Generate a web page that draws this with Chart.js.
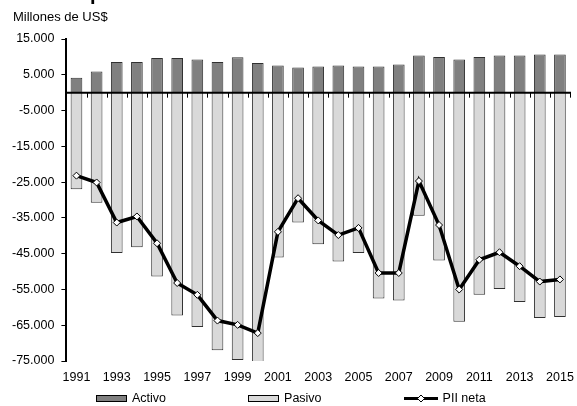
<!DOCTYPE html>
<html>
<head>
<meta charset="utf-8">
<script src="https://cdn.jsdelivr.net/npm/chart.js@4/dist/chart.umd.min.js"></script>
<style>
  body { margin: 0; background: #fff; }
  .chart__box { position: relative; width: 577px; height: 406px; }
  .legend { position: absolute; left: 96px; top: 391px; display: flex; gap: 82px;
            font: 12.5px "Liberation Sans", Arial, sans-serif; color: #000; }
  .legend__item { display: flex; align-items: center; }
  .legend__item canvas { margin-right: 5px; }
</style>
</head>
<body>
<div class="chart__box">
  <canvas id="myChart"></canvas>
  <div class="legend" id="legend"></div>
</div>
<script>
// data (millones de US$)
const years = [
  '1991','1992','1993','1994','1995','1996','1997','1998','1999','2000',
  '2001','2002','2003','2004','2005','2006','2007','2008','2009','2010',
  '2011','2012','2013','2014','2015'
];

const activo = [
  4200, 5900, 8600, 8600, 9700, 9700, 9300, 8600, 9900, 8300,
  7600, 7000, 7300, 7600, 7300, 7300, 7900, 10400, 10000, 9300,
  10000, 10400, 10400, 10700, 10700
];

const pasivo = [
  -27000, -30800, -44800, -43200, -51400, -62300, -65500, -72000, -74700, -75400,
  -46100, -36300, -42400, -47200, -44800, -57500, -58100, -34400, -46900, -64000,
  -56500, -54900, -58500, -63000, -62700
];

const piiNeta = [
  -23200, -25100, -36300, -34600, -42100, -53200, -56500, -63700, -64900, -67200,
  -38900, -29500, -35700, -39800, -37800, -50400, -50400, -24700, -37000, -55000,
  -46700, -44600, -48500, -52800, -52200
];

const yMin = -75000;
const yMax = 15000;
const yStep = 10000;

const fontFamily = '"Liberation Sans", Arial, sans-serif';

function fmt(v) {
  const s = Math.abs(v).toString().replace(/\B(?=(\d{3})+(?!\d))/g, '.');
  return (v < 0 ? '-' : '') + s;
}

// zero line with little ticks between the categories, plus unit label
const zeroAxis = {
  id: 'zeroAxis',
  afterDatasetsDraw(chart) {
    const ctx = chart.ctx;
    const y0 = chart.scales.y.getPixelForValue(0);
    const left = chart.chartArea.left;
    const right = chart.chartArea.right;
    ctx.save();
    ctx.strokeStyle = '#000';
    ctx.lineWidth = 1;
    const w = (right - left) / years.length;
    ctx.beginPath();
    for (let i = 1; i <= years.length; i++) {
      const px = Math.round(left + w * i) + 0.5;
      ctx.moveTo(px, y0);
      ctx.lineTo(px, y0 + 5);
    }
    ctx.stroke();
    ctx.lineWidth = 2;
    ctx.beginPath();
    ctx.moveTo(left, y0);
    ctx.lineTo(right + 1, y0);
    ctx.stroke();
    ctx.restore();
  },
  afterDraw(chart) {
    const ctx = chart.ctx;
    ctx.save();
    ctx.fillStyle = '#000';
    ctx.font = '13px ' + fontFamily;
    ctx.textBaseline = 'alphabetic';
    ctx.fillText('Millones de US$', 13, 21);
    // tail of the cut-off title above the picture
    ctx.font = 'bold 20px ' + fontFamily;
    ctx.fillText('p', 90, 0);
    ctx.restore();
  }
};

const data = {
  labels: years,
  datasets: [
    {
      type: 'line',
      label: 'PII neta',
      data: piiNeta,
      borderColor: '#000',
      borderWidth: 3.5,
      backgroundColor: '#fff',
      pointStyle: 'rectRot',
      pointRadius: 3.5,
      pointBackgroundColor: '#fff',
      pointBorderColor: '#000',
      pointBorderWidth: 1,
      tension: 0,
      order: 0
    },
    {
      type: 'bar',
      label: 'Activo',
      data: activo,
      backgroundColor: '#808080',
      borderColor: '#303030',
      borderWidth: 1,
      order: 1
    },
    {
      type: 'bar',
      label: 'Pasivo',
      data: pasivo,
      backgroundColor: '#d9d9d9',
      borderColor: '#303030',
      borderWidth: 1,
      order: 1
    }
  ]
};

const config = {
  data: data,
  plugins: [zeroAxis],
  options: {
    responsive: true,
    maintainAspectRatio: false,
    animation: false,
    layout: { padding: { left: 5, right: 7, top: 39, bottom: 21 } },
    datasets: {
      bar: { barPercentage: 0.58, categoryPercentage: 1 }
    },
    plugins: {
      legend: { display: false },
      tooltip: { enabled: false }
    },
    scales: {
      x: {
        stacked: true,
        grid: { display: false, drawTicks: true, tickLength: 9 },
        border: { display: false },
        ticks: {
          autoSkip: false,
          maxRotation: 0,
          padding: 0,
          color: '#000',
          font: { family: fontFamily, size: 12.5 },
          callback: function (val, i) { return i % 2 === 0 ? years[i] : ''; }
        }
      },
      y: {
        stacked: false,
        min: yMin,
        max: yMax,
        grid: { drawOnChartArea: false, drawTicks: true, tickLength: 5, color: '#000', lineWidth: 1 },
        border: { display: true, color: '#000', width: 2 },
        ticks: {
          stepSize: yStep,
          padding: 7,
          color: '#000',
          font: { family: fontFamily, size: 12.5 },
          callback: function (v) { return fmt(v); }
        }
      }
    }
  }
};

const myChart = new Chart(document.getElementById('myChart'), config);

// legend
function swatch(ds) {
  const c = document.createElement('canvas');
  const g = c.getContext('2d');
  if (ds.type === 'line') {
    c.width = 34; c.height = 9;
    g.strokeStyle = '#000';
    g.lineWidth = 3;
    g.beginPath(); g.moveTo(0, 4.5); g.lineTo(34, 4.5); g.stroke();
    g.fillStyle = '#fff';
    g.lineWidth = 1;
    g.beginPath();
    g.moveTo(17, 1); g.lineTo(20.5, 4.5); g.lineTo(17, 8); g.lineTo(13.5, 4.5); g.closePath();
    g.fill(); g.stroke();
  } else {
    c.width = 31; c.height = 7;
    g.fillStyle = ds.backgroundColor;
    g.fillRect(0.5, 0.5, 30, 6);
    g.strokeStyle = '#000';
    g.lineWidth = 1;
    g.strokeRect(0.5, 0.5, 30, 6);
  }
  return c;
}

const legend = document.getElementById('legend');
['Activo', 'Pasivo', 'PII neta'].forEach(function (name) {
  const ds = data.datasets.find(function (d) { return d.label === name; });
  const item = document.createElement('div');
  item.className = 'legend__item';
  item.appendChild(swatch(ds));
  const span = document.createElement('span');
  span.textContent = ds.label;
  item.appendChild(span);
  legend.appendChild(item);
});
</script>
</body>
</html>
